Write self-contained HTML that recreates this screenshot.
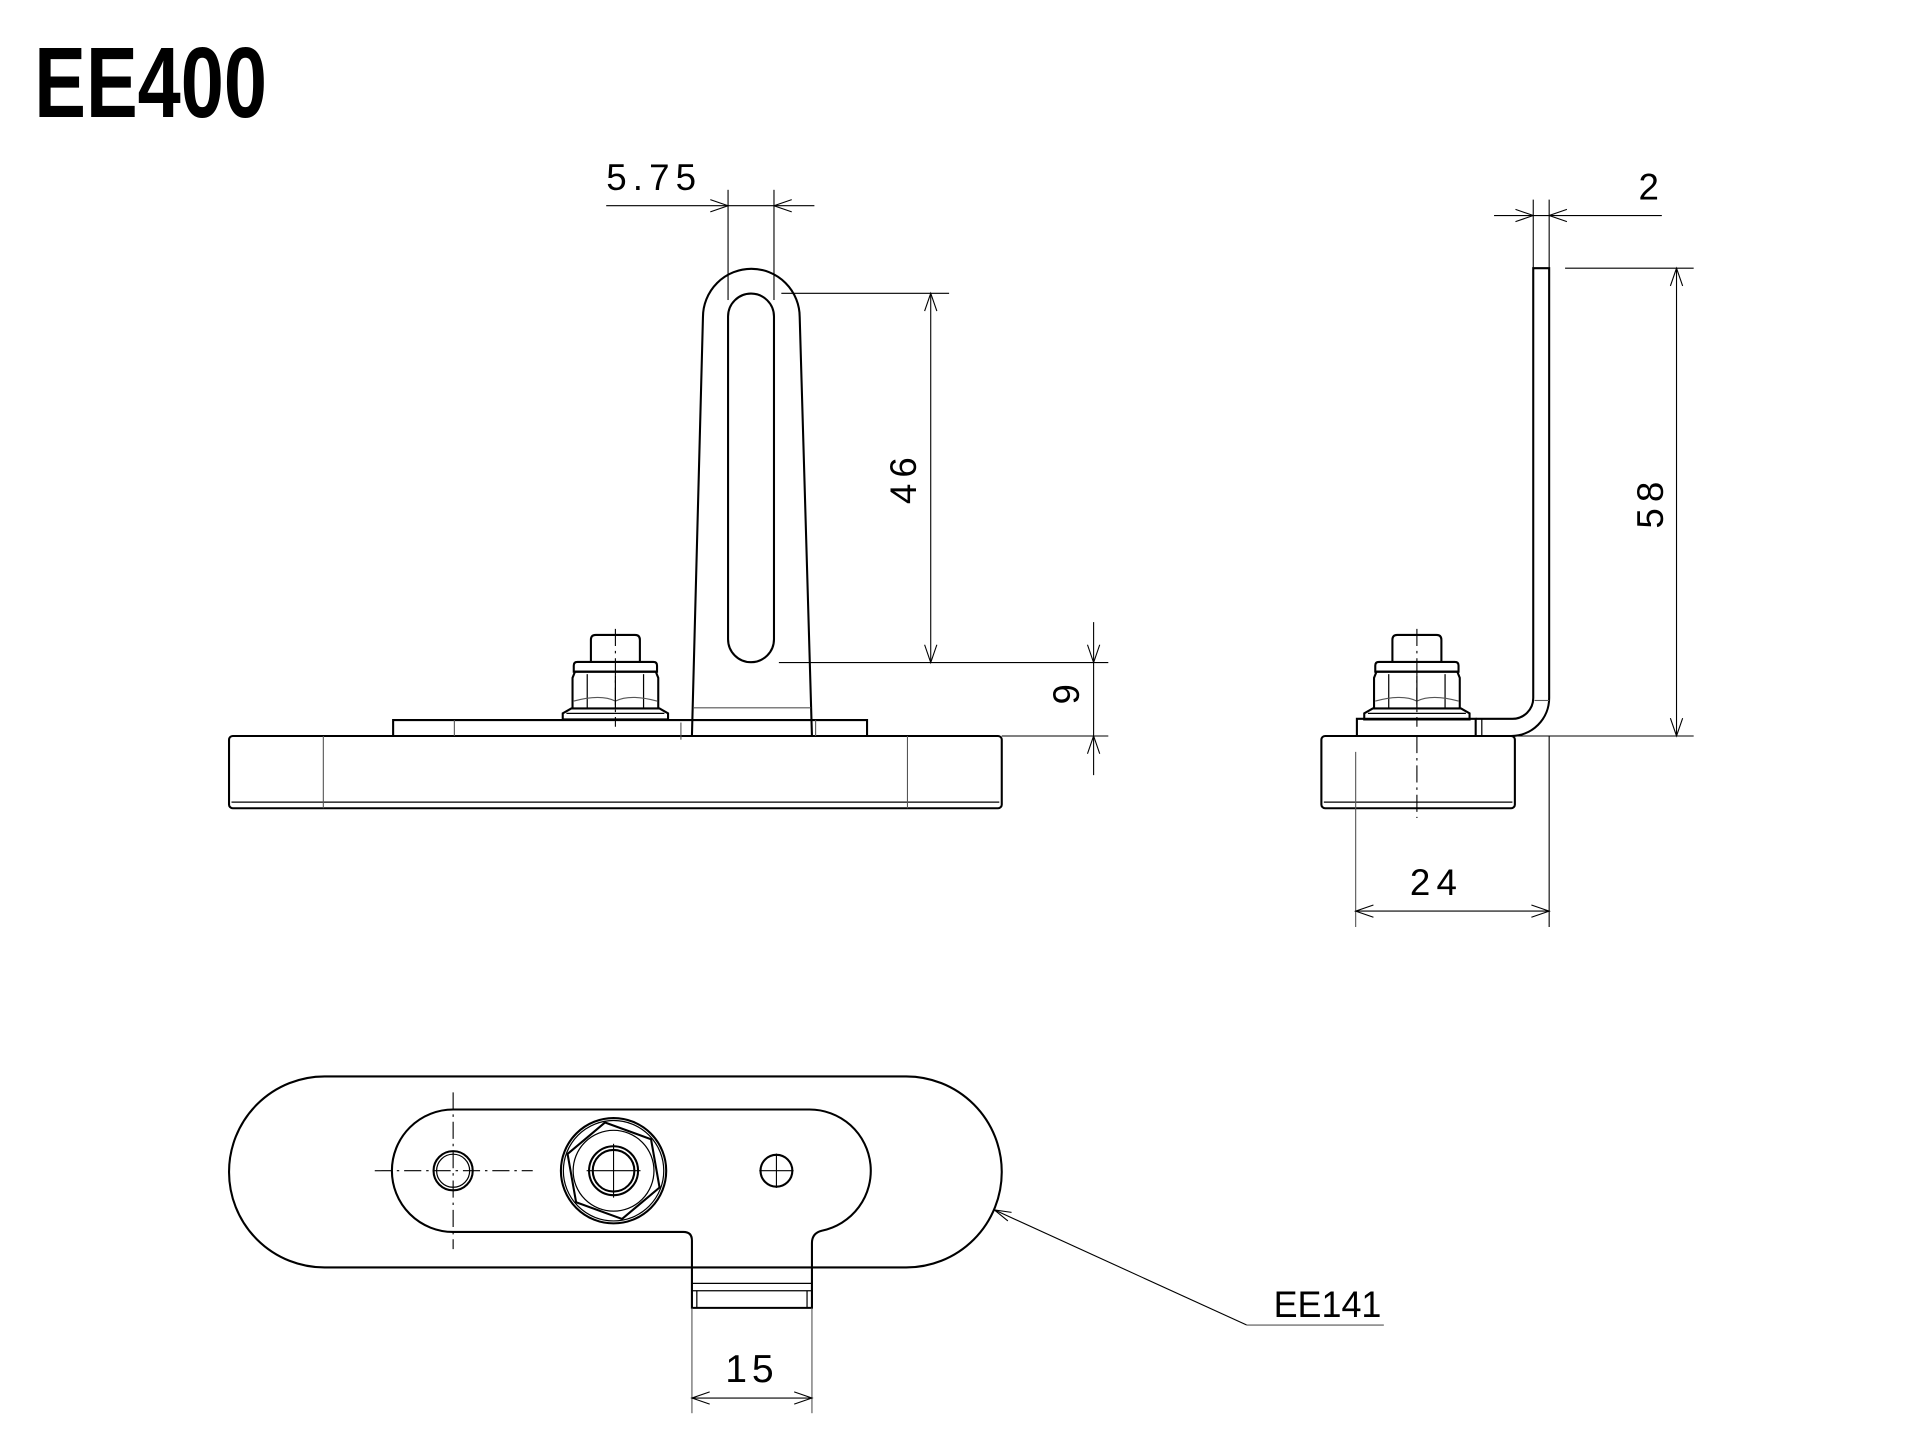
<!DOCTYPE html>
<html><head><meta charset="utf-8"><style>
html,body{margin:0;padding:0;background:#fff}
svg{display:block}
text{font-family:"Liberation Sans",sans-serif;fill:#000}
.k{fill:none;stroke:#000;stroke-width:1.7}
.t{fill:none;stroke:#000;stroke-width:1}
.g{fill:none;stroke:#555;stroke-width:0.9}
.c{fill:none;stroke:#000;stroke-width:0.9;stroke-dasharray:14 4 2 4}
.a{fill:none;stroke:#000;stroke-width:0.9}
</style></head><body>
<svg width="1920" height="1453" viewBox="0 0 1567.8 1186.5" xmlns="http://www.w3.org/2000/svg">
<defs>
<g id="nut">
<path class="k" d="M-20 22 V4 Q-20 0 -16 0 H16 Q20 0 20 4 V22"/>
<path class="k" d="M-34 30 V25 Q-34 22 -31 22 H31 Q34 22 34 25 V30 Z"/>
<path class="k" d="M-35 60 V35 L-33 30 H33 L35 35 V60"/>
<line class="t" x1="-23" y1="32" x2="-23" y2="60"/><line class="t" x1="0" y1="33" x2="0" y2="60"/><line class="t" x1="23" y1="32" x2="23" y2="60"/>
<path class="g" d="M-34 54 Q-12 48 0 54 Q12 48 34 54"/>
<path class="k" d="M-43 69 V64 L-36 60 H36 L43 64 V69 Z"/>
<line class="t" x1="-40" y1="64" x2="40" y2="64"/>
<line class="c" x1="0" y1="-5" x2="0" y2="75"/>
</g>
</defs>

<text x="28" y="95.5" font-family="Liberation Sans Narrow, Liberation Sans, sans-serif" font-weight="bold" font-size="82" textLength="190" lengthAdjust="spacingAndGlyphs">EE400</text>

<!-- FRONT VIEW -->
<rect class="k" x="187" y="601" width="631" height="59" rx="3"/>
<line class="t" x1="189" y1="655" x2="816" y2="655"/>
<line class="g" x1="264" y1="601" x2="264" y2="660"/>
<line class="g" x1="741" y1="601" x2="741" y2="660"/>
<path class="k" d="M321 601 V588 H708 V601"/>
<line class="g" x1="371" y1="588" x2="371" y2="601"/>
<line class="g" x1="556" y1="590" x2="556" y2="604"/>
<line class="g" x1="666" y1="588" x2="666" y2="601"/>
<path class="k" d="M565 601 L574 259 A39.5 39.5 0 0 1 653 259 L663 601" fill="#fff"/>
<path class="k" d="M594.5 258.5 A18.75 18.75 0 0 1 632 258.5 V522 A18.75 18.75 0 0 1 594.5 522 Z"/>
<line class="g" x1="566" y1="578" x2="662" y2="578"/>
<use href="#nut" x="502.5" y="518.5"/>

<!-- dim 5.75 -->
<line class="a" x1="594.5" y1="155" x2="594.5" y2="245"/>
<line class="a" x1="632" y1="155" x2="632" y2="245"/>
<line class="a" x1="495" y1="168" x2="665" y2="168"/>
<path class="a" d="M580 163 L594.5 168 L580 173 M646.5 163 L632 168 L646.5 173"/>
<text x="495" y="155" font-size="30" letter-spacing="5">5.75</text>
<!-- dim 46 -->
<line class="a" x1="638" y1="239.5" x2="775" y2="239.5"/>
<line class="a" x1="636" y1="541" x2="905" y2="541"/>
<line class="a" x1="760" y1="239.5" x2="760" y2="541"/>
<path class="a" d="M755 254 L760 239.5 L765 254 M755 526.5 L760 541 L765 526.5"/>
<text transform="translate(748,390) rotate(-90)" font-size="30" text-anchor="middle" letter-spacing="5">46</text>
<!-- dim 9 -->
<line class="a" x1="818" y1="601" x2="905" y2="601"/>
<line class="a" x1="893" y1="508" x2="893" y2="633"/>
<path class="a" d="M888 526.5 L893 541 L898 526.5 M888 615.5 L893 601 L898 615.5"/>
<text transform="translate(881,567) rotate(-90)" font-size="30" text-anchor="middle">9</text>

<!-- SIDE VIEW -->
<rect class="k" x="1079" y="601" width="158" height="59" rx="3"/>
<line class="t" x1="1081" y1="655" x2="1235" y2="655"/>
<line class="g" x1="1107" y1="614" x2="1107" y2="757"/>
<line class="c" x1="1157" y1="601" x2="1157" y2="668"/>
<path class="k" d="M1108 601 V587 H1205 V601"/>
<line class="t" x1="1210" y1="587" x2="1210" y2="601"/>
<path class="k" d="M1205 587 H1235 A17 17 0 0 0 1252 570 V219 H1265 V570 A31 31 0 0 1 1234 601"/>
<line class="g" x1="1253" y1="572" x2="1265" y2="572"/>
<use href="#nut" x="1157" y="518.5"/>
<!-- dim 2 -->
<line class="a" x1="1252" y1="163" x2="1252" y2="219"/>
<line class="a" x1="1265" y1="163" x2="1265" y2="219"/>
<line class="a" x1="1220" y1="176" x2="1357" y2="176"/>
<path class="a" d="M1237.5 171 L1252 176 L1237.5 181 M1279.5 171 L1265 176 L1279.5 181"/>
<text x="1338" y="163" font-size="30">2</text>
<!-- dim 58 -->
<line class="a" x1="1278" y1="219" x2="1383" y2="219"/>
<line class="a" x1="1237" y1="601" x2="1383" y2="601"/>
<line class="a" x1="1369" y1="219" x2="1369" y2="601"/>
<path class="a" d="M1364 233.5 L1369 219 L1374 233.5 M1364 586.5 L1369 601 L1374 586.5"/>
<text transform="translate(1358,410) rotate(-90)" font-size="30" text-anchor="middle" letter-spacing="5">58</text>
<!-- dim 24 -->
<line class="a" x1="1265" y1="601" x2="1265" y2="757"/>
<line class="a" x1="1107" y1="744" x2="1265" y2="744"/>
<path class="a" d="M1121.5 739 L1107 744 L1121.5 749 M1250.5 739 L1265 744 L1250.5 749"/>
<text x="1173" y="731" font-size="30" text-anchor="middle" letter-spacing="5">24</text>

<!-- TOP VIEW -->
<path class="k" d="M265 879 H740 A78 78 0 0 1 740 1035 H265 A78 78 0 0 1 265 879 Z"/>
<path class="k" d="M370 906 H661 A50 50 0 0 1 671 1005 Q663 1007 663 1015 V1068 H565 V1013 Q565 1006 558 1006 H370 A50 50 0 0 1 370 906 Z"/>
<line class="t" x1="565" y1="1048" x2="663" y2="1048"/>
<line class="t" x1="565" y1="1054" x2="663" y2="1054"/>
<line class="t" x1="569" y1="1054" x2="569" y2="1068"/>
<line class="t" x1="659" y1="1054" x2="659" y2="1068"/>
<line class="g" x1="565" y1="1068" x2="565" y2="1154"/>
<line class="g" x1="663" y1="1068" x2="663" y2="1154"/>
<!-- holes -->
<circle class="k" cx="370" cy="956" r="16"/>
<circle class="t" cx="370" cy="956" r="13.5"/>
<circle class="k" cx="634" cy="956" r="13"/>
<line class="c" x1="306" y1="956" x2="435" y2="956"/>
<line class="c" x1="370" y1="892" x2="370" y2="1020"/>
<line class="a" x1="620" y1="956" x2="648" y2="956"/>
<line class="a" x1="634" y1="942" x2="634" y2="970"/>
<!-- bolt top -->
<circle class="k" cx="501" cy="956" r="43"/>
<circle class="t" cx="501" cy="956" r="41"/>
<polygon class="k" points="501,916 535.6,936 535.6,976 501,996 466.4,976 466.4,936" transform="rotate(-10 501 956)"/>
<circle class="t" cx="501" cy="956" r="33"/>
<circle class="k" cx="501" cy="956" r="20"/>
<circle class="k" cx="501" cy="956" r="17"/>
<line class="a" x1="479" y1="956" x2="523" y2="956"/>
<line class="a" x1="501" y1="934" x2="501" y2="978"/>
<!-- leader -->
<line class="a" x1="812" y1="988" x2="1018" y2="1082"/>
<path class="a" d="M812 988 L826 990 M812 988 L823 997"/>
<line class="g" x1="1018" y1="1082" x2="1130" y2="1082"/>
<text x="1040" y="1075.5" font-size="30" textLength="88" lengthAdjust="spacingAndGlyphs">EE141</text>
<!-- dim 15 -->
<line class="a" x1="565" y1="1141.6" x2="663" y2="1141.6"/>
<path class="a" d="M579.5 1136.6 L565 1141.6 L579.5 1146.6 M648.5 1136.6 L663 1141.6 L648.5 1146.6"/>
<text x="614" y="1128.5" font-size="32" text-anchor="middle" letter-spacing="4">15</text>
</svg>
</body></html>
